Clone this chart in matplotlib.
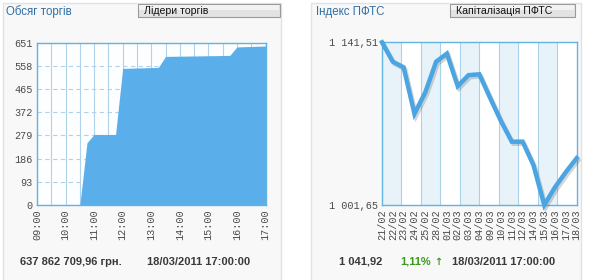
import matplotlib
matplotlib.use("Agg")
import matplotlib.pyplot as plt
import matplotlib.patheffects as pe
from matplotlib.patches import Rectangle
import numpy as np

# cumulative trading volume during the day, mln UAH
vol_times = ["09:00", "10:30", "10:45", "11:00", "11:45", "12:00",
             "13:15", "13:30", "15:45", "16:00", "17:00"]
vol_values = [0, 0, 250, 283, 283, 548, 552, 596, 600, 634, 637.86]
vol_xticks = ["09:00", "10:00", "11:00", "12:00", "13:00",
              "14:00", "15:00", "16:00", "17:00"]
vol_yticks = [0, 93, 186, 279, 372, 465, 558, 651]
vol_total = "637 862 709,96 грн."

# PFTS index by day
pfts_dates = ["21/02", "22/02", "23/02", "24/02", "25/02", "28/02", "01/03",
              "02/03", "03/03", "04/03", "09/03", "10/03", "11/03", "12/03",
              "14/03", "15/03", "16/03", "17/03", "18/03"]
pfts_values = [1141.51, 1124.8, 1120.0, 1080.0, 1098.5, 1124.8, 1131.8,
               1103.8, 1113.3, 1114.0, 1093.6, 1073.7, 1056.1, 1056.1,
               1036.0, 1001.65, 1017.0, 1030.0, 1041.92]
pfts_change = "1,11%"
stamp = "18/03/2011 17:00:00"

W, H = 592, 280
BLUE_FILL = "#5aafea"
BLUE_LINE = "#4aa5e2"
GRID = "#b0d3eb"
FRAME = "#62b2e2"
TICK_FONT = "Liberation Mono"
TEXT_FONT = "Liberation Sans"


def to_hours(t):
    h, m = t.split(":")
    return int(h) + int(m) / 60


def fmt_num(v):
    return f"{v:,.2f}".replace(",", " ").replace(".", ",")


def ax_rect(x0, y0, x1, y1):
    # pixel box (top-left origin) -> figure fraction
    return [x0 / W, 1 - y1 / H, (x1 - x0) / W, (y1 - y0) / H]


fig = plt.figure(figsize=(W / 100, H / 100), dpi=100, facecolor="white")

# background layer in pixel coordinates
bg = fig.add_axes([0, 0, 1, 1], zorder=0)
bg.set_xlim(0, W)
bg.set_ylim(H, 0)
bg.axis("off")

for x0, x1 in [(3, 281), (311, 581)]:
    bg.add_patch(Rectangle((x0, 3), x1 - x0, H, facecolor="#f8f8f8",
                           edgecolor="#e2e2e2", lw=1))
# inactive tabs
for x0, x1, label in [(138, 280, "Лідери торгів"),
                      (450, 575, "Капіталізація ПФТС")]:
    bg.add_patch(Rectangle((x0, 4), x1 - x0, 13, facecolor="#e3e3e3",
                           edgecolor="#9a9a9a", lw=0.8))
    bg.add_patch(Rectangle((x0 + 1, 4.5), x1 - x0 - 2, 5,
                           facecolor="#f2f2f2", edgecolor="none"))
    bg.text(x0 + 6, 11, label, fontsize=7.6, family=TEXT_FONT,
            color="#111111", va="center", ha="left")

bg.text(6, 11.5, "Обсяг торгів", fontsize=8.3, family=TEXT_FONT,
        color="#2f6fa8", va="center", ha="left")
bg.text(316, 11.5, "Індекс ПФТС", fontsize=8.3, family=TEXT_FONT,
        color="#2f6fa8", va="center", ha="left")

# bottom info lines
bg.text(20, 262, vol_total, fontsize=8, family=TEXT_FONT, weight="bold",
        color="#3a3a3a", va="center", ha="left")
bg.text(147, 262, stamp, fontsize=8, family=TEXT_FONT, weight="bold",
        color="#3a3a3a", va="center", ha="left")
bg.text(339, 262, fmt_num(pfts_values[-1]), fontsize=8, family=TEXT_FONT,
        weight="bold", color="#3a3a3a", va="center", ha="left")
bg.text(400, 262, pfts_change, fontsize=8, family=TEXT_FONT, weight="bold",
        color="#3c9a1c", va="center", ha="left")
bg.text(434, 262, "↑", fontsize=7, family="DejaVu Sans", weight="bold",
        color="#3c9a1c", va="center", ha="left")
bg.text(452, 262, stamp, fontsize=8, family=TEXT_FONT, weight="bold",
        color="#3a3a3a", va="center", ha="left")

# ---- left chart: trading volume ----
ax1 = fig.add_axes(ax_rect(37, 42.7, 265.5, 205), zorder=1)
ax1.set_facecolor("#fdfeff")
hours = [to_hours(t) for t in vol_times]
for x in np.arange(9, 17.01, 0.5):
    ax1.axvline(x, color=GRID, lw=0.8, zorder=1)
for y in vol_yticks:
    ax1.axhline(y, color=GRID, lw=0.8, ls=(0, (4, 3)), zorder=1)
ax1.fill_between(hours, vol_values, 0, color=BLUE_FILL, lw=0, zorder=2)
ax1.set_xlim(9, 17)
ax1.set_ylim(0, vol_yticks[-1])
ax1.set_xticks([to_hours(t) for t in vol_xticks])
ax1.set_xticklabels(vol_xticks, rotation=90)
ax1.set_yticks(vol_yticks)
ax1.set_yticklabels([str(v) for v in vol_yticks])

# ---- right chart: PFTS index ----
ax2 = fig.add_axes(ax_rect(382, 42.3, 576.7, 205), zorder=1)
ax2.set_facecolor("white")
n = len(pfts_dates)
xs = np.arange(n)
bands = 10
bw = (n - 1) / bands
for k in range(bands):
    if k % 2 == 0:
        ax2.axvspan(k * bw, (k + 1) * bw, color="#e8f3f9", lw=0, zorder=0)
    if k > 0:
        ax2.axvline(k * bw, color="#a9d2ea", lw=0.8, zorder=1)
ax2.plot(xs, pfts_values, color=BLUE_LINE, lw=3.2, solid_joinstyle="miter",
         zorder=3, clip_on=False,
         path_effects=[pe.SimpleLineShadow(offset=(1.2, -1.5), alpha=0.25,
                                           shadow_color="#555555"),
                       pe.Normal()])
ymin, ymax = min(pfts_values), max(pfts_values)
ax2.set_xlim(0, n - 1)
ax2.set_ylim(ymin, ymax)
ax2.set_xticks(xs)
ax2.set_xticklabels(pfts_dates, rotation=90)
ax2.set_yticks([ymin, ymax])
ax2.set_yticklabels([fmt_num(ymin), fmt_num(ymax)])

for ax in (ax1, ax2):
    for s in ax.spines.values():
        s.set_color(FRAME)
        s.set_linewidth(1)
    ax.tick_params(length=0, pad=3, labelsize=7.3, labelcolor="#4a4a4a")
    for lab in ax.get_xticklabels() + ax.get_yticklabels():
        lab.set_family(TICK_FONT)

fig.savefig("out.png", dpi=100, facecolor="white")
